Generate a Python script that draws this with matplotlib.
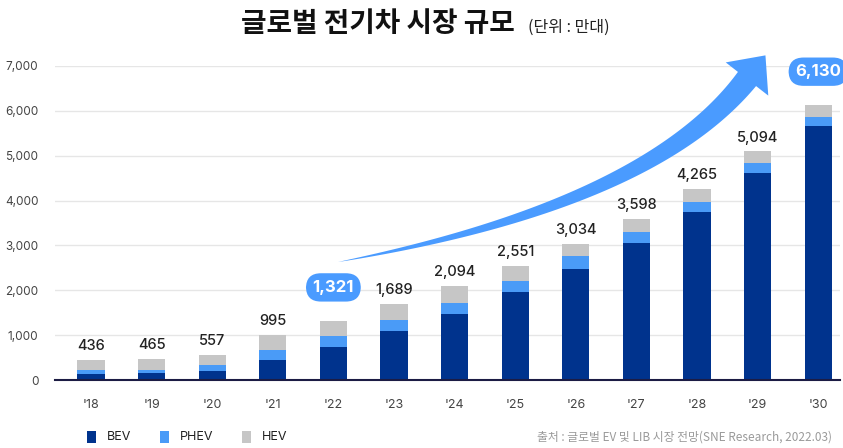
import matplotlib.pyplot as plt
import numpy as np
from matplotlib.patches import Polygon

plt.rcParams['font.family'] = ['Noto Sans CJK KR', 'DejaVu Sans']

# 데이터 (만대)
years = ["'18", "'19", "'20", "'21", "'22", "'23", "'24", "'25", "'26", "'27", "'28", "'29", "'30"]
totals = [436, 465, 557, 995, 1321, 1689, 2094, 2551, 3034, 3598, 4265, 5094, 6130]
bev = [126, 164, 207, 436, 732, 1088, 1475, 1969, 2484, 3046, 3752, 4619, 5664]
phev = [93, 49, 125, 230, 249, 240, 251, 246, 272, 261, 223, 223, 206]
hev = [t - b - p for t, b, p in zip(totals, bev, phev)]
highlight = ["'22", "'30"]

c_bev = '#00338d'
c_phev = '#4a9bf7'
c_hev = '#c6c6c6'
c_arrow = '#4a9bff'

W, H = 843, 448
fig = plt.figure(figsize=(W / 100, H / 100), dpi=100)
ax = fig.add_axes([55 / W, 1 - 380 / H, 785 / W, 314 / H])

x = np.arange(len(years))
bw = 0.45
ax.bar(x, bev, bw, color=c_bev, zorder=3)
ax.bar(x, phev, bw, bottom=bev, color=c_phev, zorder=3)
ax.bar(x, hev, bw, bottom=np.array(bev) + np.array(phev), color=c_hev, zorder=3)

ax.set_xlim(-0.594, 12.36)
ax.set_ylim(0, 7000)
ax.set_yticks(range(0, 7001, 1000))
ax.set_yticklabels([f'{v:,}' for v in range(0, 7001, 1000)], fontsize=8.5, color='#444444', family='Inter')
ax.set_xticks(x)
ax.set_xticklabels(years, fontsize=9, color='#444444', family='Inter')
ax.tick_params(axis='both', length=0)
ax.tick_params(axis='x', pad=14)
ax.tick_params(axis='y', pad=12)
ax.grid(axis='y', color='#e6e6e6', linewidth=1, zorder=0)
for s in ['top', 'right', 'left']:
    ax.spines[s].set_visible(False)
ax.spines['bottom'].set_color('#1c1c44')
ax.spines['bottom'].set_linewidth(1.5)
ax.spines['bottom'].set_zorder(4)

# 값 라벨
for xi, yr, t in zip(x, years, totals):
    if yr in highlight:
        ax.annotate(f'{t:,}', (xi, t), xytext=(0, 24), textcoords='offset points',
                    ha='center', va='center', fontsize=12, fontweight='bold', color='white',
                    family='Inter',
                    bbox=dict(boxstyle='round,pad=0.4,rounding_size=0.9', fc=c_arrow, ec='none'),
                    annotation_clip=False, zorder=6)
    else:
        ax.annotate(f'{t:,}', (xi, t), xytext=(0, 5), textcoords='offset points',
                    ha='center', va='bottom', fontsize=10.5, color='#222222', family='Inter',
                    fontweight='medium', annotation_clip=False)

# 곡선 화살표 (그림 픽셀 좌표)
p0 = np.array([338.0, 262.0])
p2 = np.array([747.0, 79.0])
d_end = np.array([0.615, -0.788])
p1 = p2 - 160 * d_end
s = np.linspace(0, 1, 80)[:, None]
pts = (1 - s) ** 2 * p0 + 2 * (1 - s) * s * p1 + s ** 2 * p2
tang = 2 * (1 - s) * (p1 - p0) + 2 * s * (p2 - p1)
tang = tang / np.linalg.norm(tang, axis=1)[:, None]
nrm = np.column_stack([tang[:, 1], -tang[:, 0]])
half = 11.5 * s[:, 0] ** 0.85
upper = pts - nrm * half[:, None]
lower = pts + nrm * half[:, None]
head_n = np.array([d_end[1], -d_end[0]])
head = [p2 - head_n * 27, p2 + d_end * 30, p2 + head_n * 27]
poly = np.vstack([upper, head, lower[::-1]])
poly_in = np.column_stack([poly[:, 0] / 100, (H - poly[:, 1]) / 100])
fig.patches.append(Polygon(poly_in, closed=True, fc=c_arrow, ec='none',
                           transform=fig.dpi_scale_trans, zorder=5))

# 제목
fig.text(378 / W, 1 - 24 / H, '글로벌 전기차 시장 규모', ha='center', va='center',
         fontsize=20, fontweight='black', color='#111111')
fig.text(528 / W, 1 - 27 / H, '(단위 : 만대)', ha='left', va='center',
         fontsize=11.5, color='#222222')

# 범례
leg = [('BEV', c_bev, 87), ('PHEV', c_phev, 160), ('HEV', c_hev, 242)]
for name, col, px in leg:
    fig.patches.append(plt.Rectangle((px / W, 1 - 443 / H), 9 / W, 12 / H, fc=col, ec='none',
                                     transform=fig.transFigure))
    fig.text((px + 20) / W, 1 - 437 / H, name, ha='left', va='center', fontsize=9, color='#222222',
             family='Inter')

fig.text(832 / W, 1 - 437 / H, '출처 : 글로벌 EV 및 LIB 시장 전망(SNE Research, 2022.03)',
         ha='right', va='center', fontsize=8.5, color='#9a9a9a')

fig.savefig('out.png', dpi=100)
